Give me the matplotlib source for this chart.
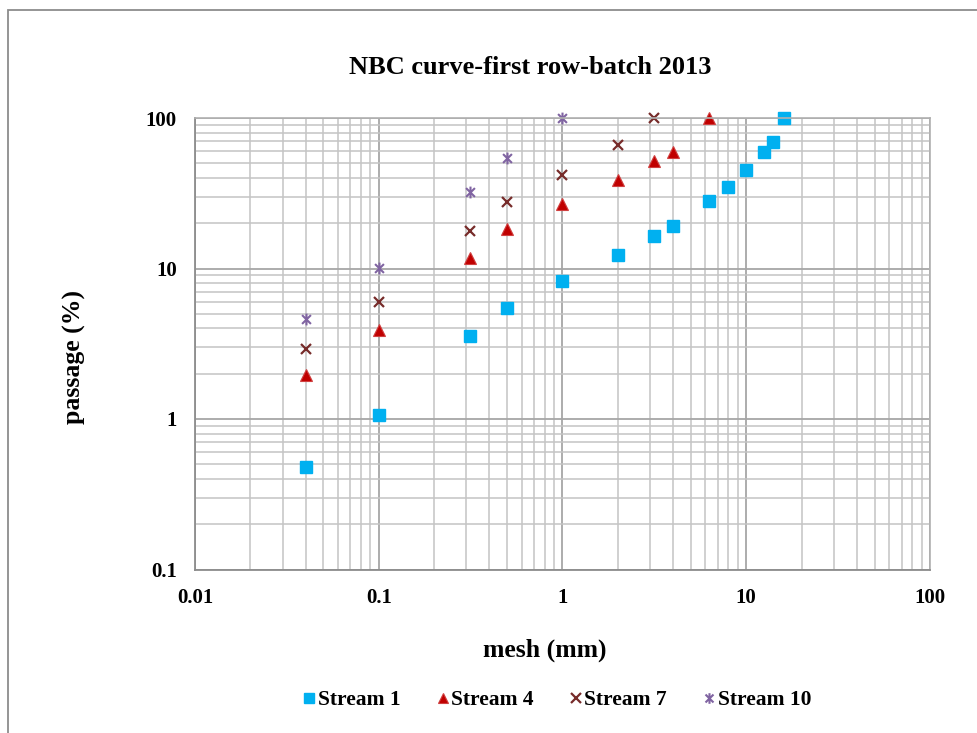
import matplotlib
matplotlib.use("Agg")
import matplotlib.pyplot as plt
from matplotlib.path import Path
from matplotlib.patches import Rectangle
from matplotlib.ticker import FixedLocator, LogLocator, NullFormatter

plt.rcParams['font.family'] = ['Liberation Serif', 'DejaVu Serif']

# Sieve mesh sizes (mm) and cumulative passage (%)
mesh_s1 = [0.04, 0.1, 0.315, 0.5, 1, 2, 3.15, 4, 6.3, 8, 10, 12.5, 14, 16]
pass_s1 = [0.48, 1.07, 3.55, 5.5, 8.2, 12.3, 16.5, 19.2, 28, 35, 45, 59, 69.5, 100]

mesh_s4 = [0.04, 0.1, 0.315, 0.5, 1, 2, 3.15, 4, 6.3]
pass_s4 = [1.95, 3.9, 11.8, 18.2, 26.8, 38.8, 51.5, 59.5, 100]

mesh_s7 = [0.04, 0.1, 0.315, 0.5, 1, 2, 3.15]
pass_s7 = [2.9, 5.95, 17.8, 27.8, 42, 66, 100]

mesh_s10 = [0.04, 0.1, 0.315, 0.5, 1]
pass_s10 = [4.65, 10.1, 32.3, 54.5, 100]

series_names = ["Stream 1", "Stream 4", "Stream 7", "Stream 10"]
title = "NBC curve-first row-batch 2013"
x_ticks = [0.01, 0.1, 1, 10, 100]
x_tick_labels = ["0.01", "0.1", "1", "10", "100"]
y_ticks = [0.1, 1, 10, 100]
y_tick_labels = ["0.1", "1", "10", "100"]

# Asterisk marker: vertical bar plus diagonal cross
asterisk = Path(
    [(0, -1), (0, 1), (-0.75, -0.75), (0.75, 0.75), (-0.75, 0.75), (0.75, -0.75)],
    [Path.MOVETO, Path.LINETO, Path.MOVETO, Path.LINETO, Path.MOVETO, Path.LINETO],
)

fig = plt.figure(figsize=(9.78, 7.33), dpi=100)
ax = fig.add_axes([195 / 978, 1 - 569.5 / 733, (930 - 195) / 978, (569.5 - 118) / 733])

# Outer chart frame
fig.patches.append(Rectangle((8 / 978, -0.1), 1.2, 1 - 10 / 733 + 0.1,
                             transform=fig.transFigure, fill=False,
                             edgecolor='#8c8c8c', linewidth=1.3, zorder=0))

ax.set_xscale('log')
ax.set_yscale('log')
ax.set_xlim(0.01, 100)
ax.set_ylim(0.1, 100)

ax.xaxis.set_major_locator(FixedLocator(x_ticks))
ax.yaxis.set_major_locator(FixedLocator(y_ticks))
ax.xaxis.set_minor_locator(LogLocator(base=10, subs=range(2, 10), numticks=20))
ax.yaxis.set_minor_locator(LogLocator(base=10, subs=range(2, 10), numticks=20))
ax.xaxis.set_minor_formatter(NullFormatter())
ax.yaxis.set_minor_formatter(NullFormatter())
ax.set_xticklabels(x_tick_labels)
ax.set_yticklabels(y_tick_labels)

ax.grid(which='major', color='#a6a6a6', linewidth=1.3)
ax.grid(which='minor', color='#c4c4c4', linewidth=1.1)
ax.set_axisbelow(True)
ax.tick_params(which='both', length=0)
ax.tick_params(axis='x', pad=13, labelsize=15)
ax.tick_params(axis='y', pad=13, labelsize=15)
for lbl in ax.get_xticklabels() + ax.get_yticklabels():
    lbl.set_fontweight('bold')

for side in ['left', 'bottom']:
    ax.spines[side].set_color('#8c8c8c')
    ax.spines[side].set_linewidth(1.3)
for side in ['top', 'right']:
    ax.spines[side].set_color('#b0b0b0')
    ax.spines[side].set_linewidth(1.2)

ax.plot(mesh_s1, pass_s1, linestyle='none', marker='s', markersize=8.5,
        color='#00b0f0', markeredgecolor='#00b0f0', label=series_names[0], clip_on=False)
ax.plot(mesh_s4, pass_s4, linestyle='none', marker='^', markersize=8.5,
        color='#c00000', markeredgecolor='#d04040', markeredgewidth=0.8,
        label=series_names[1], clip_on=False)
ax.plot(mesh_s7, pass_s7, linestyle='none', marker='x', markersize=7.5,
        markeredgewidth=1.6, color='#772c2a', label=series_names[2], clip_on=False)
ax.plot(mesh_s10, pass_s10, linestyle='none', marker=asterisk, markersize=8.5,
        markeredgewidth=1.5, color='#8064a2', fillstyle='none',
        label=series_names[3], clip_on=False)

fig.text(530 / 978, 1 - 68 / 733, title, ha='center', va='center',
         fontsize=19, fontweight='bold')
fig.text(74 / 978, 1 - 357 / 733, "passage (%)", ha='center', va='center',
         rotation=90, fontsize=18.5, fontweight='bold')
fig.text(545 / 978, 1 - 650 / 733, "mesh (mm)", ha='center', va='center',
         fontsize=18.5, fontweight='bold')

leg = fig.legend(loc='center', bbox_to_anchor=(557 / 978, 1 - 700 / 733), ncol=4,
                 frameon=False, prop={'weight': 'bold', 'size': 15.5},
                 handlelength=0.6, handletextpad=0.1, columnspacing=1.65,
                 markerscale=0.9)

fig.savefig("out.png", dpi=100)
